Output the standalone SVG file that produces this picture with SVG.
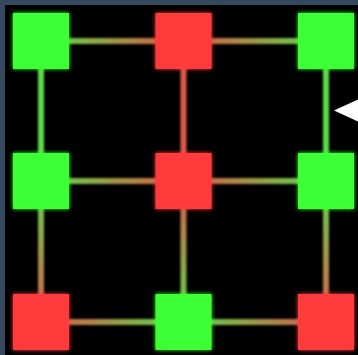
<svg xmlns="http://www.w3.org/2000/svg" width="358" height="355" viewBox="0 0 358 355">
  <defs>
    <style>
      .g { fill: #3cff36; }
      .r { fill: #ff3b3b; }
      .node { filter: url(#glow); }
      .edge { filter: url(#soft); }
    </style>
    <filter id="glow" x="-30%" y="-30%" width="160%" height="160%">
      <feGaussianBlur in="SourceGraphic" stdDeviation="2" result="b"/>
      <feMerge><feMergeNode in="b"/><feMergeNode in="SourceGraphic"/></feMerge>
    </filter>
    <filter id="soft" x="-50%" y="-50%" width="200%" height="200%">
      <feGaussianBlur in="SourceGraphic" stdDeviation="0.8"/>
    </filter>
    <linearGradient id="grH" x1="0" y1="0" x2="1" y2="0">
      <stop offset="0" stop-color="#5ada4a"/><stop offset="1" stop-color="#e0584a"/>
    </linearGradient>
    <linearGradient id="rgH" x1="0" y1="0" x2="1" y2="0">
      <stop offset="0" stop-color="#e0584a"/><stop offset="1" stop-color="#5ada4a"/>
    </linearGradient>
    <linearGradient id="grV" x1="0" y1="0" x2="0" y2="1">
      <stop offset="0" stop-color="#5ada4a"/><stop offset="1" stop-color="#e0584a"/>
    </linearGradient>
    <linearGradient id="rgV" x1="0" y1="0" x2="0" y2="1">
      <stop offset="0" stop-color="#e0584a"/><stop offset="1" stop-color="#5ada4a"/>
    </linearGradient>
  </defs>
  <rect x="0" y="0" width="358" height="355" fill="#34495e"/>
  <rect x="5" y="5" width="353" height="350" fill="#000"/>
  <g id="connectors">
    <!-- horizontal -->
    <rect class="edge" x="41" y="38" width="142.5" height="6" fill="url(#grH)"/>
    <rect class="edge" x="183.5" y="38" width="142.5" height="6" fill="url(#rgH)"/>
    <rect class="edge" x="41" y="178" width="142.5" height="6" fill="url(#grH)"/>
    <rect class="edge" x="183.5" y="178" width="142.5" height="6" fill="url(#rgH)"/>
    <rect class="edge" x="41" y="319" width="142.5" height="6" fill="url(#rgH)"/>
    <rect class="edge" x="183.5" y="319" width="142.5" height="6" fill="url(#grH)"/>
    <!-- vertical -->
    <rect class="edge" x="38" y="41" width="6" height="140" fill="#5ada4a"/>
    <rect class="edge" x="38" y="181" width="6" height="141" fill="url(#grV)"/>
    <rect class="edge" x="180.5" y="41" width="6" height="140" fill="#e0584a"/>
    <rect class="edge" x="180.5" y="181" width="6" height="141" fill="url(#rgV)"/>
    <rect class="edge" x="323" y="41" width="6" height="140" fill="#5ada4a"/>
    <rect class="edge" x="323" y="181" width="6" height="141" fill="url(#grV)"/>
  </g>
  <g id="n00" class="node"><rect class="g" x="13" y="13" width="56" height="56"/></g>
  <g id="n01" class="node"><rect class="r" x="155.5" y="13" width="56" height="56"/></g>
  <g id="n02" class="node"><rect class="g" x="298" y="13" width="56" height="56"/></g>
  <g id="n10" class="node"><rect class="g" x="13" y="153" width="56" height="56"/></g>
  <g id="n11" class="node"><rect class="r" x="155.5" y="153" width="56" height="56"/></g>
  <g id="n12" class="node"><rect class="g" x="298" y="153" width="56" height="56"/></g>
  <g id="n20" class="node"><rect class="r" x="13" y="294" width="56" height="56"/></g>
  <g id="n21" class="node"><rect class="g" x="155.5" y="294" width="56" height="56"/></g>
  <g id="n22" class="node"><rect class="r" x="298" y="294" width="56" height="56"/></g>
  <polygon points="334,110.5 358,99.5 358,121.5" fill="#ffffff"/>
</svg>
